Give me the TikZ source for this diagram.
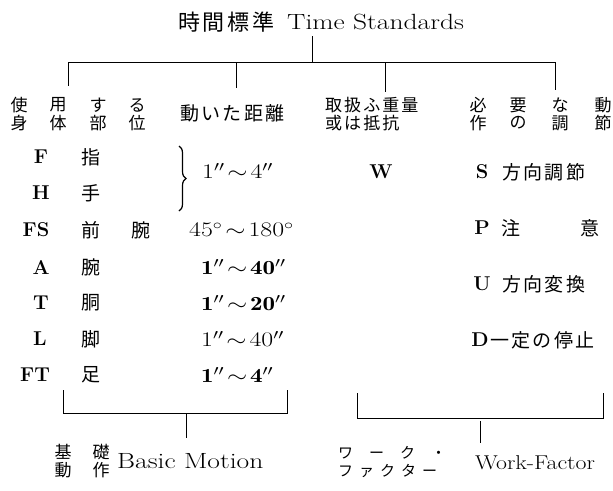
\documentclass[tikz,border=0pt]{standalone}
\usepackage{fontspec}
\usepackage{graphicx}
\newfontfamily\jp{Noto Sans CJK JP}[LetterSpace=12]
\newcommand{\wx}[1]{\scalebox{1.25}[1]{#1}}
\usetikzlibrary{decorations.pathreplacing}
\begin{document}
\begin{tikzpicture}[x=1pt,y=-1pt,
  jt/.style={font=\jp\fontsize{19}{19}\selectfont, inner sep=0pt},
  jh/.style={font=\jp\fontsize{17}{17}\selectfont, inner sep=0pt},
  jk/.style={font=\jp\fontsize{15}{15}\selectfont, inner sep=0pt},
  lt/.style={font=\fontsize{20}{20}\selectfont\bfseries, inner sep=0pt},
  nt/.style={font=\fontsize{20}{20}\selectfont, inner sep=0pt},
  et/.style={font=\fontsize{22}{22}\selectfont, inner sep=0pt},
  ln/.style={line width=0.8pt}]
\useasboundingbox (0,0) rectangle (613,490);
\clip (0,0) rectangle (613,490);
% title
\node[anchor=west, jt, font=\jp\fontsize{22}{22}\selectfont] (tj) at (178,22) {時間標準};
\node[anchor=west, et] (te) at (287,22) {\wx{Time Standards}};
\coordinate (t0) at (312,36);
\coordinate (b0) at (312,62);
\coordinate (d1) at (68,86);
\coordinate (d2) at (236,88);
\coordinate (d3) at (385,92);
\coordinate (d4) at (555,90);
\draw[ln] (t0) -- (b0);
\draw[ln] (d1 |- b0) -- (d4 |- b0);
\draw[ln] (d1 |- b0) -- (d1);
\draw[ln] (d2 |- b0) -- (d2);
\draw[ln] (d3 |- b0) -- (d3);
\draw[ln] (d4 |- b0) -- (d4);
% headers
\node[jh] (h11) at (19,105) {使};
\node[jh] (h12) at (58,105) {用};
\node[jh] (h13) at (98,105) {す};
\node[jh] (h14) at (137,105) {る};
\node[jh] (h21) at (19,123) {身};
\node[jh] (h22) at (58,123) {体};
\node[jh] (h23) at (98,123) {部};
\node[jh] (h24) at (137,123) {位};
\node[jt, anchor=west] (hd) at (180,113) {動いた距離};
\node[jh, anchor=west] (hw1) at (325,105) {取扱ふ重量};
\node[jh, anchor=west] (hw2) at (325,123) {或は抵抗};
\node[jh] (hn11) at (478,105) {必};
\node[jh] (hn12) at (518,105) {要};
\node[jh] (hn13) at (560,105) {な};
\node[jh] (hn14) at (603,105) {動};
\node[jh] (hn21) at (478,123) {作};
\node[jh] (hn22) at (518,123) {の};
\node[jh] (hn23) at (560,123) {調};
\node[jh] (hn24) at (603,123) {節};
% rows: letters
\node[lt] (rF) at (41,157) {F};
\node[lt] (rH) at (41,193) {H};
\node[lt] (rFS) at (36,230) {FS};
\node[lt] (rA) at (41,267) {A};
\node[lt] (rT) at (41,303) {T};
\node[lt] (rL) at (40,339) {L};
\node[lt] (rFT) at (35,375) {FT};
\node[jt] (kF) at (91,157) {指};
\node[jt] (kH) at (91,193) {手};
\node[jt] (kFS) at (91,230) {前};
\node[jt] (kFS2) at (141,230) {腕};
\node[jt] (kA) at (91,267) {腕};
\node[jt] (kT) at (91,303) {胴};
\node[jt] (kL) at (91,339) {脚};
\node[jt] (kFT) at (91,375) {足};
% distances
\coordinate (brT) at (179,146);
\coordinate (brB) at (179,211);
\draw[line width=1.2pt, decorate, decoration={brace, amplitude=7pt}] (brT) -- (brB);
\node[nt, anchor=west] (dFH) at (202,171) {\wx{$1''\!\sim\!4''$}};
\node[nt, anchor=west] (dFS) at (189,230) {\wx{$45^\circ\!\sim\!180^\circ$}};
\node[nt, anchor=west] (dA) at (201,267) {\wx{$\mathbf{1''\!\sim\!40''}$}};
\node[nt, anchor=west] (dT) at (201,303) {\wx{$\mathbf{1''\!\sim\!20''}$}};
\node[nt, anchor=west] (dL) at (201,339) {\wx{$1''\!\sim\!40''$}};
\node[nt, anchor=west] (dFT) at (201,375) {\wx{$\mathbf{1''\!\sim\!4''}$}};
% weight
\node[lt] (wW) at (381,172) {W};
% control
\node[lt] (cS) at (482,172) {S};
\node[jt, anchor=west] (cSk) at (502,172) {方向調節};
\node[lt] (cP) at (482,228) {P};
\node[jt] (cPk1) at (511,228) {注};
\node[jt] (cPk2) at (590,228) {意};
\node[lt] (cU) at (482,284) {U};
\node[jt, anchor=west] (cUk) at (502,284) {方向変換};
\node[lt] (cD) at (480,340) {D};
\node[jt, anchor=west] (cDk) at (490,340) {一定の停止};
% bottom left bracket
\coordinate (l1) at (63,390);
\coordinate (l2) at (63,413);
\coordinate (l3) at (287,413);
\coordinate (l4) at (287,390);
\coordinate (lm) at (186,413);
\coordinate (lmb) at (186,438);
\draw[ln] (l1) -- (l2) -- (l3) -- (l4);
\draw[ln] (lm) -- (lmb);
\node[jh] (bk1) at (63,452) {基};
\node[jh] (bk2) at (101,452) {礎};
\node[jh] (bk3) at (63,470) {動};
\node[jh] (bk4) at (101,470) {作};
\node[et, anchor=west] (bm) at (117,461) {\wx{Basic Motion}};
% bottom right bracket
\coordinate (r1) at (357,393);
\coordinate (r2) at (357,418);
\coordinate (r3) at (603,418);
\coordinate (r4) at (603,393);
\coordinate (rm) at (480,421);
\coordinate (rmb) at (480,443);
\draw[ln] (r1) -- (r2) -- (r3) -- (r4);
\draw[ln] (rm) -- (rmb);
\node[jk, anchor=west] (wk1) at (338,453) {ワ\hspace{16pt}ー\hspace{16pt}ク\hspace{16pt}・};
\node[jk, anchor=west] (wk2) at (338,471) {フ\hspace{6pt}ァ\hspace{6pt}ク\hspace{6pt}タ\hspace{6pt}ー};
\node[anchor=west, inner sep=0pt, font=\fontsize{20}{20}\selectfont] (wf) at (475,463) {\scalebox{1.19}[1]{Work-Factor}};
\end{tikzpicture}
\end{document}
